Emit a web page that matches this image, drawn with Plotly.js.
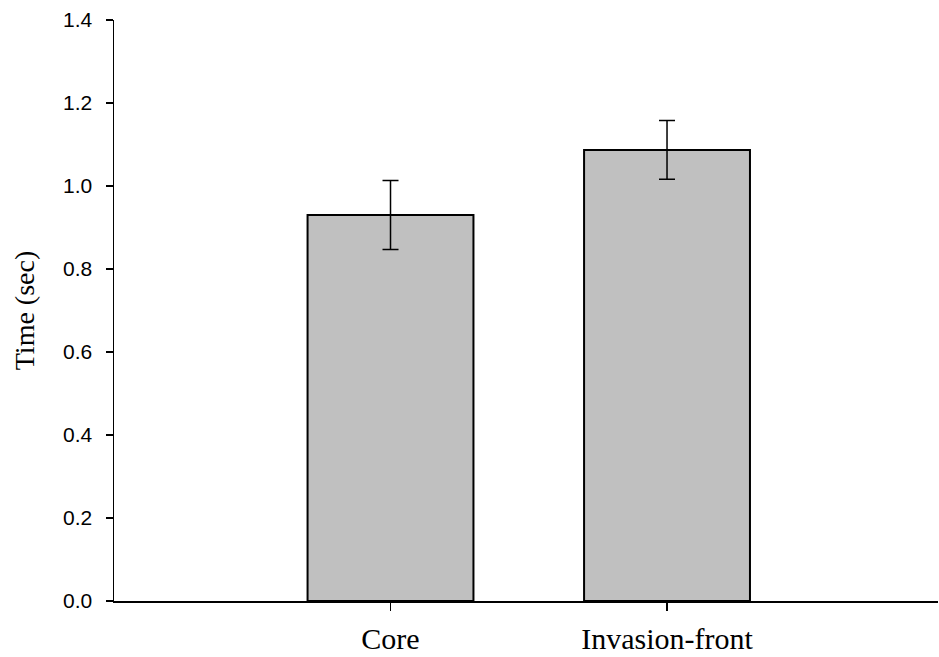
<!DOCTYPE html>
<html>
<head>
<meta charset="utf-8">
<script src="https://cdn.plot.ly/plotly-3.0.1.min.js"></script>
<style>html,body{margin:0;padding:0;background:#fff;}#chart{width:939px;height:657px;}</style>
</head>
<body>
<div id="chart"></div>
<script>
const categories = ["Core", "Invasion-front"];
const meanTime = [0.930, 1.087];
const errTime = [0.083, 0.071];
const yTickVals = [0, 0.2, 0.4, 0.6, 0.8, 1.0, 1.2, 1.4];
const yTickText = ["0.0", "0.2", "0.4", "0.6", "0.8", "1.0", "1.2", "1.4"];

const serif = '"Liberation Serif", "Times New Roman", serif';
const sans = '"Liberation Sans", Arial, sans-serif';

const trace = {
  type: 'bar',
  x: categories,
  y: meanTime,
  width: 0.6,
  marker: {color: '#c0c0c0', line: {color: '#000', width: 2}},
  error_y: {type: 'data', array: errTime, visible: true, color: '#000', thickness: 1.5, width: 8}
};

const layout = {
  width: 939, height: 657,
  margin: {l: 114, r: 1, t: 20, b: 56},
  paper_bgcolor: '#fff', plot_bgcolor: '#fff',
  showlegend: false,
  bargap: 0.4,
  xaxis: {
    type: 'category', range: [-1, 1.98],
    showline: true, linecolor: '#000', linewidth: 2,
    ticks: 'outside', ticklen: 8, tickwidth: 1.5, tickcolor: '#000',
    showgrid: false, zeroline: false,
    tickfont: {family: serif, size: 30, color: '#000'},
    ticklabelstandoff: 2
  },
  yaxis: {
    range: [0, 1.4],
    tickvals: yTickVals, ticktext: yTickText,
    showline: true, linecolor: '#000', linewidth: 1.5,
    ticks: 'outside', ticklen: 7, tickwidth: 1.5, tickcolor: '#000',
    showgrid: false, zeroline: false,
    tickfont: {family: sans, size: 21, color: '#000'},
    ticklabelstandoff: 9,
    title: {text: 'Time (sec)', font: {family: serif, size: 28, color: '#000'}, standoff: 20}
  }
};

Plotly.newPlot('chart', [trace], layout, {displayModeBar: false, staticPlot: true});
</script>
</body>
</html>
